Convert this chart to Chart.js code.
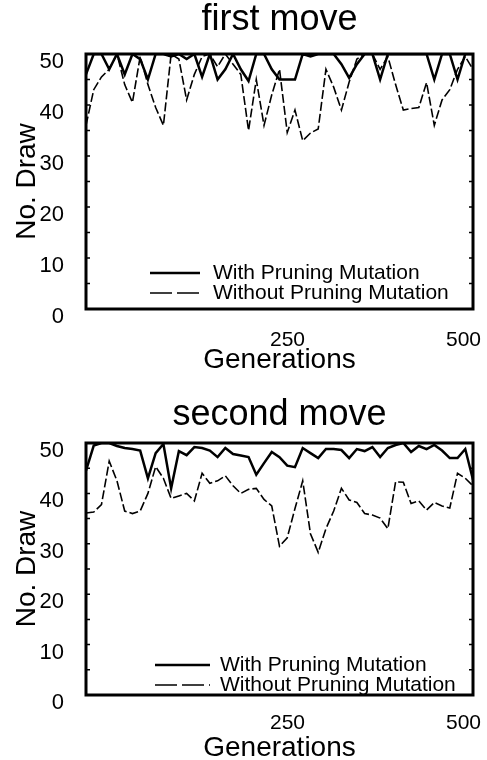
<!DOCTYPE html>
<html>
<head>
<meta charset="utf-8">
<script src="https://cdn.jsdelivr.net/npm/chart.js@4/dist/chart.umd.min.js"></script>
<style>
body { margin: 0; background: #fff; overflow: hidden; }
canvas { display: block; }
</style>
</head>
<body>
<canvas id="first" width="487" height="380"></canvas>
<canvas id="second" width="487" height="380"></canvas>
<script>
const generations = [0,10,20,30,40,50,60,70,80,90,100,110,120,130,140,150,160,170,180,190,200,
  210,220,230,240,250,260,270,280,290,300,310,320,330,340,350,360,370,380,390,400,
  410,420,430,440,450,460,470,480,490,500];

const firstWith = [46,50,50,47,50,46,50,49,45,50, 50,49.5,50,49,50,45.5,50,45,47,50,
  47,44.7,50,50,47,45,45,45,50,49.5, 50,50,50,48,45.3,48,50,50,45,50,
  50,50,50,50,50,45,50,50,45,50, 50];
const firstWithout = [36,43,45.5,47,50,44,40.5,49.5,44,39.5, 36,50,49,41,46,49.5,50,47.5,50,48,
  46,35,45,36,42,47,34.6,39,33,34.5, 35.3,47,43.5,39,44.5,49,50,50,47,49.5,
  44,39,39.3,39.5,44.4,36,41,43,47,49.5, 47];

const secondWith = [44.5,49.5,50,50,49.4,49,48.8,48.5,43,48, 49.8,41,48.4,47.6,49.2,49,48.5,47.2,49,47.8,
  47.5,47.2,43.7,46,48.2,47.2,45.5,45.2,49,48, 47,48.8,48.8,48.6,47,48.8,48.4,49.2,47.2,49,
  49.6,50,48.2,49.4,48.8,49.6,48.5,47,47,48.8, 42.7];
const secondWithout = [36.1,36.3,37.8,46.4,42.5,36.5,36,36.5,40,45.3, 43,39,39.5,40,38.5,44,42,42.5,43.5,41.5,
  40,40.8,41,38.8,37.5,29.5,31.2,37,42.5,32, 28.3,33,36.5,41,38.7,38.2,36,35.7,35.1,33,
  42.3,42.2,38,38.5,36.7,38.2,37.5,37.1,44,43, 41.5];

const yTicks = [0,10,20,30,40,50];
const yMinor = [5,10,15,20,25,30,35,40,45];
const xTicks = [0,250,500];
const seriesNames = ['With Pruning Mutation', 'Without Pruning Mutation'];

const FONT = "'Liberation Sans', Arial, Helvetica, sans-serif";

// box round the plot, small inward ticks, legend inside the plot
const framePlugin = {
  id: 'frame',
  afterDatasetsDraw(chart, args, opts) {
    const ctx = chart.ctx, a = chart.chartArea, y = chart.scales.y;
    ctx.save();
    ctx.strokeStyle = '#000';
    ctx.lineWidth = 1.5;
    yMinor.forEach(v => {
      const py = y.getPixelForValue(v);
      ctx.beginPath();
      ctx.moveTo(a.left, py); ctx.lineTo(a.left + 4, py);
      ctx.moveTo(a.right, py); ctx.lineTo(a.right - 4, py);
      ctx.stroke();
    });
    ctx.lineWidth = 3;
    ctx.strokeRect(a.left, a.top, a.right - a.left, a.bottom - a.top);

    ctx.font = '21px ' + FONT;
    ctx.fillStyle = '#000';
    ctx.textBaseline = 'middle';
    ctx.textAlign = 'left';
    chart.data.datasets.forEach((ds, i) => {
      const py = a.bottom - opts.rows[i];
      ctx.lineWidth = ds.borderWidth;
      ctx.setLineDash(opts.dashes[i]);
      ctx.beginPath();
      ctx.moveTo(opts.x1, py); ctx.lineTo(opts.x2, py);
      ctx.stroke();
      ctx.setLineDash([]);
      ctx.fillText(ds.label, opts.textX, py);
    });
    ctx.restore();
  }
};

function makeChart(id, title, withVals, withoutVals, L) {
  const pts = arr => generations.map((g, i) => ({x: g, y: arr[i]}));
  return new Chart(document.getElementById(id), {
    type: 'line',
    data: {
      datasets: [
        { label: seriesNames[0], data: pts(withVals), borderColor: '#000', borderWidth: 2.5,
          pointRadius: 0, tension: 0, fill: false },
        { label: seriesNames[1], data: pts(withoutVals), borderColor: '#000', borderWidth: 1.6,
          borderDash: [9, 3], pointRadius: 0, tension: 0, fill: false }
      ]
    },
    options: {
      responsive: false,
      devicePixelRatio: 1,
      animation: false,
      layout: { padding: { left: 0, right: 14, top: 0, bottom: 0 } },
      plugins: {
        legend: { display: false },
        tooltip: { enabled: false },
        title: {
          display: true, text: title, color: '#000', fullSize: false,
          font: { family: FONT, size: 36, weight: 'normal', lineHeight: 1 },
          padding: L.titlePad
        },
        frame: { rows: L.rows, x1: L.x1, x2: L.x2, textX: L.textX, dashes: [[], [22, 5]] }
      },
      scales: {
        x: {
          type: 'linear', min: 0, max: 500,
          afterBuildTicks: s => { s.ticks = xTicks.map(v => ({value: v})); },
          afterFit: s => { s.height = L.xHeight; },
          grid: { display: false }, border: { display: false },
          ticks: {
            callback: v => v === 0 ? '' : v,
            align: 'inner', labelOffset: 8, padding: L.xPad, maxRotation: 0, autoSkip: false,
            color: '#000', font: { family: FONT, size: 21 }
          },
          title: {
            display: true, text: 'Generations', color: '#000',
            font: { family: FONT, size: 28, lineHeight: 1 },
            padding: { top: 0, bottom: L.xTitlePad }
          }
        },
        y: {
          min: 0, max: 50,
          afterBuildTicks: s => { s.ticks = yTicks.map(v => ({value: v})); },
          afterFit: s => { s.width = 86; },
          grid: { display: false }, border: { display: false },
          ticks: { padding: 14, labelOffset: 8, color: '#000', font: { family: FONT, size: 22 } },
          title: {
            display: true, text: 'No. Draw', color: '#000',
            font: { family: FONT, size: 28, lineHeight: 1 },
            padding: { top: 13, bottom: 0 }
          }
        }
      }
    },
    plugins: [framePlugin]
  });
}

makeChart('first', 'first move', firstWith, firstWithout, {
  titlePad: { top: 2, bottom: 16 }, xPad: 11, xHeight: 71, xTitlePad: 6,
  rows: [36, 16], x1: 150, x2: 200, textX: 213
});
makeChart('second', 'second move', secondWith, secondWithout, {
  titlePad: { top: 17, bottom: 10 }, xPad: 8, xHeight: 65, xTitlePad: -2,
  rows: [30, 10], x1: 155, x2: 210, textX: 220
});
</script>
</body>
</html>
